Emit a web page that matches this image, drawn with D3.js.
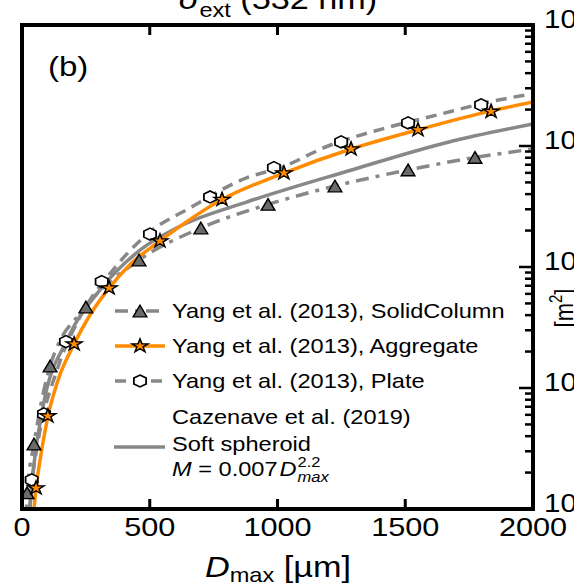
<!DOCTYPE html>
<html><head><meta charset="utf-8">
<script src="https://cdn.jsdelivr.net/npm/d3@7"></script>
<style>body{margin:0;background:#fff} svg{display:block}</style>
</head><body><svg id="c" width="574" height="585"></svg>
<script>
// ---------------- data ----------------
const xTickValues = [0, 500, 1000, 1500, 2000];
const yTickExponents = [-9, -8, -7, -6, -5];

// Yang et al. (2013), SolidColumn  (D in µm, sigma_ext in m^2)
const colLineD = [16, 20, 47, 110, 250, 458, 700, 963, 1225, 1511, 1773, 2000];
const colLineS = [0.85e-9, 1.36e-9, 3.44e-9, 1.52e-8, 4.67e-8, 1.14e-7, 2.10e-7, 3.29e-7, 4.67e-7, 6.34e-7, 8.04e-7, 9.44e-7];
const colMarkD = [20, 47, 110, 250, 458, 700, 963, 1225, 1511, 1773];
const colMarkS = [1.36e-9, 3.44e-9, 1.52e-8, 4.67e-8, 1.14e-7, 2.10e-7, 3.29e-7, 4.67e-7, 6.34e-7, 8.04e-7];

// Yang et al. (2013), Aggregate
const aggLineD = [40, 47, 55, 74, 102, 141, 204, 266, 341, 423, 540, 783, 1025, 1288, 1550, 1836, 2000];
const aggLineS = [0.72e-9, 1.00e-9, 1.49e-9, 2.79e-9, 5.87e-9, 1.16e-8, 2.31e-8, 4.01e-8, 6.70e-8, 1.05e-7, 1.64e-7, 3.61e-7, 5.98e-7, 9.44e-7, 1.36e-6, 1.95e-6, 2.31e-6];
const aggMarkD = [55, 101, 204, 341, 540, 783, 1025, 1288, 1550, 1836];
const aggMarkS = [1.49e-9, 5.87e-9, 2.31e-8, 6.70e-8, 1.64e-7, 3.61e-7, 5.98e-7, 9.44e-7, 1.36e-6, 1.93e-6];

// Yang et al. (2013), Plate
const plaLineD = [25, 30, 38, 59, 141, 227, 356, 501, 658, 881, 1014, 1198, 1408, 1618, 1828, 2000];
const plaLineS = [0.7e-9, 1.0e-9, 1.6e-9, 3.25e-9, 1.49e-8, 3.86e-8, 9.44e-8, 1.95e-7, 3.08e-7, 5.48e-7, 6.64e-7, 1.00e-6, 1.38e-6, 1.79e-6, 2.31e-6, 2.71e-6];
const plaMarkD = [38, 86, 172, 312, 501, 736, 986, 1249, 1511, 1797];
const plaMarkS = [1.74e-9, 6.10e-9, 2.42e-8, 7.57e-8, 1.87e-7, 3.79e-7, 6.62e-7, 1.08e-6, 1.55e-6, 2.19e-6];

// Cazenave et al. (2019), soft spheroid
const cazLineD = [25, 31, 43, 82, 176, 305, 462, 618, 881, 1276, 1671, 2000];
const cazLineS = [0.65e-9, 1.0e-9, 1.99e-9, 6.97e-9, 2.49e-8, 6.46e-8, 1.38e-7, 2.17e-7, 3.45e-7, 6.21e-7, 1.08e-6, 1.52e-6];

const legendLabels = ["Yang et al. (2013), SolidColumn", "Yang et al. (2013), Aggregate", "Yang et al. (2013), Plate", "Cazenave et al. (2019)", "Soft spheroid"];

// ---------------- drawing ----------------
const SX = 1.18;           // horizontal stretch of the original figure
const L = 22, R = 533, T = 25, B = 509;
const GRAY = "#888888", ORANGE = "#ff8c00";
const FONT = "'Liberation Sans', Arial, Helvetica, sans-serif";

const svg = d3.select("#c");
const x = d3.scaleLinear().domain([0, 2000]).range([L, R]);
const y = d3.scaleLog().domain([1e-9, 1e-5]).range([B, T]);

svg.append("defs").append("clipPath").attr("id", "clip")
  .append("rect").attr("x", L).attr("y", T).attr("width", R - L).attr("height", B - T);

const plot = svg.append("g").attr("clip-path", "url(#clip)");
const line = d3.line().x(d => x(d[0])).y(d => y(d[1])).curve(d3.curveMonotoneX);
const zip = (a, b) => a.map((v, i) => [v, b[i]]);

const series = [
  {d: zip(cazLineD, cazLineS), color: GRAY, dash: null, w: 3.5},
  {d: zip(colLineD, colLineS), color: GRAY, dash: "13,7,4,7", w: 3.5},
  {d: zip(plaLineD, plaLineS), color: GRAY, dash: "11,7", w: 3.5},
  {d: zip(aggLineD, aggLineS), color: ORANGE, dash: null, w: 3.5},
];
series.forEach(s => {
  plot.append("path").attr("d", line(s.d)).attr("fill", "none")
    .attr("stroke", s.color).attr("stroke-width", s.w)
    .attr("stroke-dasharray", s.dash);
});

// marker shapes
const triPath = (() => { const h = 5.8; return `M0,${-h}L${h},${h}L${-h},${h}Z`; })();
const starPath = (() => {
  const ro = 7.2, ri = ro * 0.381966; let p = "";
  for (let i = 0; i < 10; i++) {
    const r = i % 2 ? ri : ro, a = -Math.PI / 2 + i * Math.PI / 5;
    p += (i ? "L" : "M") + (r * Math.cos(a)).toFixed(2) + "," + (r * Math.sin(a)).toFixed(2);
  }
  return p + "Z";
})();
const hexPath = (() => {
  const r = 6; let p = "";
  for (let i = 0; i < 6; i++) {
    const a = -Math.PI / 2 + i * Math.PI / 3;
    p += (i ? "L" : "M") + (r * Math.cos(a)).toFixed(2) + "," + (r * Math.sin(a)).toFixed(2);
  }
  return p + "Z";
})();
const markStyles = {
  tri: {p: triPath, fill: "#6b6b6b", sw: 1.3},
  star: {p: starPath, fill: ORANGE, sw: 1.3},
  hex: {p: hexPath, fill: "#ffffff", sw: 1.5},
};
function marker(g, kind, px, py) {
  const m = markStyles[kind];
  g.append("path").attr("d", m.p).attr("fill", m.fill).attr("stroke", "#000")
    .attr("stroke-width", m.sw).attr("stroke-linejoin", "miter")
    .attr("transform", `translate(${px},${py}) scale(${SX},1)`);
}
zip(colMarkD, colMarkS).forEach(d => marker(plot, "tri", x(d[0]), y(d[1])));
zip(plaMarkD, plaMarkS).forEach(d => marker(plot, "hex", x(d[0]), y(d[1])));
zip(aggMarkD, aggMarkS).forEach(d => marker(plot, "star", x(d[0]), y(d[1])));

// frame
svg.append("rect").attr("x", L).attr("y", T).attr("width", R - L).attr("height", B - T)
  .attr("fill", "none").attr("stroke", "#000").attr("stroke-width", 4);

// x ticks (top and bottom, inward)
xTickValues.filter(v => v > 0 && v < 2000).forEach(v => {
  svg.append("line").attr("x1", x(v)).attr("x2", x(v)).attr("y1", T).attr("y2", T + 10)
    .attr("stroke", "#000").attr("stroke-width", 3);
  svg.append("line").attr("x1", x(v)).attr("x2", x(v)).attr("y1", B - 10).attr("y2", B)
    .attr("stroke", "#000").attr("stroke-width", 3);
});
function stext(px, py, str, fs, anchor = "start", extra = {}) {
  const t = svg.append("text").attr("transform", `translate(${px},${py}) scale(${SX},1)`)
    .attr("font-family", FONT).attr("font-size", fs).attr("text-anchor", anchor)
    .attr("fill", "#000").text(str);
  Object.entries(extra).forEach(([k, v]) => t.attr(k, v));
  return t;
}
xTickValues.forEach(v => stext(x(v), 536, String(v), 26, "middle"));

// right log axis ticks
yTickExponents.forEach((e, i) => {
  const v = Math.pow(10, e);
  svg.append("line").attr("x1", R - 14).attr("x2", R).attr("y1", y(v)).attr("y2", y(v))
    .attr("stroke", "#000").attr("stroke-width", 2.5);
  if (i < yTickExponents.length - 1) {
    for (let m = 2; m <= 9; m++) {
      const yy = y(m * v);
      svg.append("line").attr("x1", R - 8).attr("x2", R).attr("y1", yy).attr("y2", yy)
        .attr("stroke", "#000").attr("stroke-width", 2.5);
    }
  }
  const t = stext(544, y(v) + 3, "10", 25, "start");
  t.append("tspan").attr("dy", -11).attr("font-size", 17).text(String(e).replace("-", "\u2212"));
});

// title
const title = svg.append("text").attr("transform", `translate(278,9) scale(${SX},1)`)
  .attr("font-family", FONT).attr("font-size", 29).attr("text-anchor", "middle");
title.append("tspan").attr("font-style", "italic").text("σ");
title.append("tspan").attr("dy", 8).attr("font-size", 20).text("ext");
title.append("tspan").attr("dy", -8).text(" (532 nm)");

// x label
const xl = svg.append("text").attr("transform", `translate(278,577) scale(${SX},1)`)
  .attr("font-family", FONT).attr("font-size", 29).attr("text-anchor", "middle");
xl.append("tspan").attr("font-style", "italic").text("D");
xl.append("tspan").attr("dy", 5).attr("font-size", 20).text("max");
xl.append("tspan").attr("dy", -5).text(" [µm]");

// right y label
const yl = svg.append("text").attr("transform", `translate(573,308) rotate(-90) scale(1,${SX})`)
  .attr("font-family", FONT).attr("font-size", 22).attr("text-anchor", "middle");
yl.append("tspan").text("[m");
yl.append("tspan").attr("dy", -9).attr("font-size", 15).text("2");
yl.append("tspan").attr("dy", 9).text("]");

// panel label
stext(48, 76, "(b)", 28);

// legend
const lg = svg.append("g");
const legRows = [
  {y: 311, color: GRAY, dash: "13,7,4,7", mk: "tri", label: legendLabels[0]},
  {y: 346, color: ORANGE, dash: null, mk: "star", label: legendLabels[1]},
  {y: 381, color: GRAY, dash: "11,7", mk: "hex", label: legendLabels[2]},
];
legRows.forEach(r => {
  lg.append("line").attr("x1", 115).attr("x2", 165).attr("y1", r.y).attr("y2", r.y)
    .attr("stroke", r.color).attr("stroke-width", 3.5).attr("stroke-dasharray", r.dash);
  marker(lg, r.mk, 140, r.y);
  stext(172, r.y + 7, r.label, 20);
});
stext(172, 424, legendLabels[3], 20);
lg.append("line").attr("x1", 114).attr("x2", 165).attr("y1", 447).attr("y2", 447)
  .attr("stroke", GRAY).attr("stroke-width", 3.5);
stext(172, 451, legendLabels[4], 20);
// M = 0.007 D^2.2_max
const m1 = stext(172, 476, "", 20);
m1.append("tspan").attr("font-style", "italic").text("M");
m1.append("tspan").text(" = 0.007");
const w1 = m1.node().getComputedTextLength() * SX;
const dT = stext(172 + w1 + 2, 476, "D", 20, "start", {"font-style": "italic"});
const w2 = dT.node().getComputedTextLength() * SX;
stext(172 + w1 + 2 + w2 + 1, 467, "2.2", 14);
stext(172 + w1 + 2 + w2 + 1, 482, "max", 14, "start", {"font-style": "italic"});
</script></body></html>
